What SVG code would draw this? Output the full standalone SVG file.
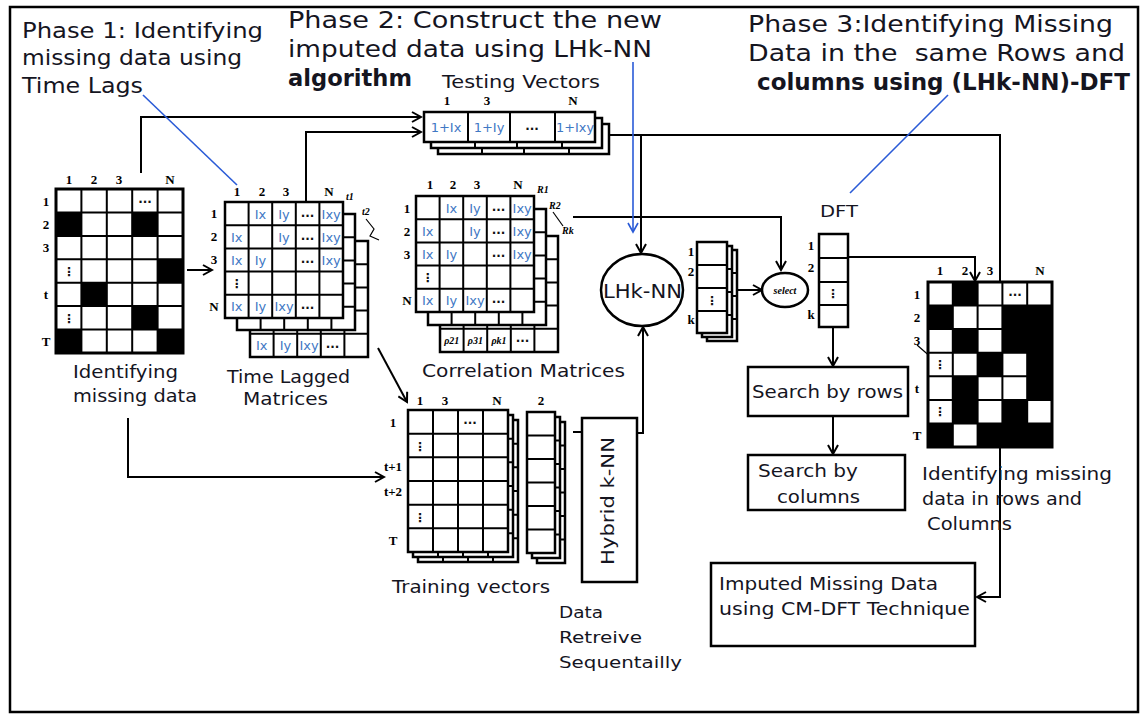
<svg xmlns="http://www.w3.org/2000/svg" xmlns:xlink="http://www.w3.org/1999/xlink" width="1144" height="718" viewBox="0 0 1144 718">
<style>
.ln{stroke:#000;stroke-width:2;fill:none}
.cn{stroke:#000;stroke-width:2;fill:none;marker-end:url(#ah)}
.bl{stroke:#2a5bd7;stroke-width:1.6;fill:none}
.t{font-family:"DejaVu Sans",Verdana,sans-serif;fill:#15151f}
.lab{font-family:"Liberation Serif",serif;font-weight:bold;font-size:13px;text-anchor:middle;fill:#000}
.it{font-family:"Liberation Serif",serif;font-style:italic;font-weight:bold;font-size:10px;fill:#000}
.cell{font-family:"DejaVu Sans",sans-serif;font-size:13px;fill:#3f78c4;text-anchor:middle}
.dots{font-family:"DejaVu Sans",sans-serif;font-weight:bold;font-size:12px;text-anchor:middle;fill:#111}
.box{fill:#fff;stroke:#000;stroke-width:2.5}
.blk{fill:#000}
</style>
<defs>
<marker id="ah" markerWidth="12" markerHeight="12" refX="10" refY="6" orient="auto" markerUnits="userSpaceOnUse"><path d="M1,1 L10,6 L1,11" fill="none" stroke="#000" stroke-width="2"/></marker>
<marker id="ahb" markerWidth="12" markerHeight="12" refX="10" refY="6" orient="auto" markerUnits="userSpaceOnUse"><path d="M1,1 L10,6 L1,11" fill="none" stroke="#2a5bd7" stroke-width="1.6"/></marker>
<g id="g55"><rect width="118" height="116" class="box"/><path d="M23.6 0V116M47.2 0V116M70.8 0V116M94.4 0V116M0 23.2H118M0 46.4H118M0 69.6H118M0 92.8H118" class="ln"/></g>
<g id="g4v"><rect width="171" height="30" class="box"/><path d="M44 0V30M86 0V30M131 0V30" class="ln"/></g>
<g id="gTr"><rect width="100" height="142" class="box"/><path d="M25 0V142M50 0V142M75 0V142M0 23.67H100M0 47.33H100M0 71H100M0 94.67H100M0 118.33H100" class="ln"/></g>
<g id="gCol"><rect width="28" height="141" class="box"/><path d="M0 23.5H28M0 47H28M0 70.5H28M0 94H28M0 117.5H28" class="ln"/></g>
<g id="gK"><rect width="30" height="91" class="box"/><path d="M0 23H30M0 46H30M0 69H30" class="ln"/></g>
<g id="lagtxt">
<text class="cell" x="35.4" y="16.6">Ix</text><text class="cell" x="59" y="16.6">Iy</text><text class="dots" x="82.6" y="14.6">...</text><text class="cell" x="106.2" y="16.6">Ixy</text>
<text class="cell" x="11.8" y="39.8">Ix</text><text class="cell" x="59" y="39.8">Iy</text><text class="dots" x="82.6" y="37.8">...</text><text class="cell" x="106.2" y="39.8">Ixy</text>
<text class="cell" x="11.8" y="63">Ix</text><text class="cell" x="35.4" y="63">Iy</text><text class="dots" x="82.6" y="61">...</text><text class="cell" x="106.2" y="63">Ixy</text>
<text class="dots" x="11.8" y="86.2">⋮</text>
<text class="cell" x="11.8" y="109.4">Ix</text><text class="cell" x="35.4" y="109.4">Iy</text><text class="cell" x="59" y="109.4">Ixy</text><text class="dots" x="82.6" y="107.4">...</text>
</g>
</defs>
<rect x="0" y="0" width="1144" height="718" fill="#fff"/>
<rect x="10" y="7" width="1128" height="705" fill="none" stroke="#000" stroke-width="2.5"/>

<g id="phase-titles">
<text class="t" font-size="21" x="22" y="38" textLength="241" lengthAdjust="spacingAndGlyphs">Phase 1: Identifying</text>
<text class="t" font-size="21" x="22" y="65" textLength="220" lengthAdjust="spacingAndGlyphs">missing data using</text>
<text class="t" font-size="21" x="22" y="93" textLength="121" lengthAdjust="spacingAndGlyphs">Time Lags</text>
<text class="t" font-size="23" x="288" y="28" textLength="374" lengthAdjust="spacingAndGlyphs">Phase 2: Construct the new</text>
<text class="t" font-size="23" x="288" y="57" textLength="364" lengthAdjust="spacingAndGlyphs">imputed data using LHk-NN</text>
<text class="t" font-size="23" font-weight="bold" x="288" y="86" textLength="124" lengthAdjust="spacingAndGlyphs">algorithm</text>
<text class="t" font-size="23" x="748" y="32" textLength="365" lengthAdjust="spacingAndGlyphs">Phase 3:Identifying Missing</text>
<text class="t" font-size="23" x="748" y="61" textLength="377" lengthAdjust="spacingAndGlyphs" xml:space="preserve">Data in the  same Rows and</text>
<text class="t" font-size="23" font-weight="bold" x="757" y="90" textLength="373" lengthAdjust="spacingAndGlyphs">columns using (LHk-NN)-DFT</text>
</g>

<g id="connectors">
<path class="cn" d="M187 270H212"/>
<path class="cn" d="M141 173V117H421"/>
<path class="cn" d="M306 202V132H421"/>
<path class="ln" d="M605 135H1000V282"/>
<path class="cn" d="M1000 447V597H977"/>
<path class="cn" d="M641 135V253"/>
<path class="cn" d="M573 217H781V270"/>
<path class="cn" d="M128 418V477H384"/>
<path class="cn" d="M378 348L407 402"/>
<path class="ln" d="M573 432H582"/>
<path class="cn" d="M637 433H643V327"/>
<path class="cn" d="M738 290H762"/>
<path class="cn" d="M848 257H975V281"/>
<path class="cn" d="M833 327V366"/>
<path class="cn" d="M833 416V454"/>
<path d="M917 345L940 365" stroke="#000" stroke-width="1.2" fill="none"/>
<path class="bl" d="M143 95L237 185"/>
<path class="bl" d="M633 62V232" marker-end="url(#ahb)"/>
<path class="bl" d="M948 95L850 193"/>
</g>

<g id="input-matrix">
<rect x="56" y="189" width="127" height="164" fill="#fff"/>
<rect class="blk" x="56" y="212.4" width="25.4" height="23.5"/>
<rect class="blk" x="132.2" y="212.4" width="25.4" height="23.5"/>
<rect class="blk" x="157.6" y="259.3" width="25.4" height="23.5"/>
<rect class="blk" x="81.4" y="282.7" width="25.4" height="23.5"/>
<rect class="blk" x="132.2" y="306.1" width="25.4" height="23.5"/>
<rect class="blk" x="56" y="329.6" width="25.4" height="23.4"/>
<rect class="blk" x="157.6" y="329.6" width="25.4" height="23.4"/>
<path class="ln" d="M81.4 189V353M106.8 189V353M132.2 189V353M157.6 189V353M56 212.4H183M56 235.9H183M56 259.3H183M56 282.7H183M56 306.1H183M56 329.6H183"/>
<rect x="56" y="189" width="127" height="164" fill="none" stroke="#000" stroke-width="3"/>
<text class="dots" x="145" y="203">...</text>
<text class="dots" x="69" y="276">⋮</text>
<text class="dots" x="69" y="323">⋮</text>
<text class="lab" x="69" y="184">1</text><text class="lab" x="94" y="184">2</text><text class="lab" x="119" y="184">3</text><text class="lab" x="170" y="184">N</text>
<text class="lab" x="46" y="206">1</text><text class="lab" x="46" y="229">2</text><text class="lab" x="46" y="252">3</text><text class="lab" x="46" y="299">t</text><text class="lab" x="46" y="346">T</text>
<text class="t" font-size="17" x="73" y="378" textLength="105" lengthAdjust="spacingAndGlyphs">Identifying</text>
<text class="t" font-size="17" x="73" y="402" textLength="124" lengthAdjust="spacingAndGlyphs">missing data</text>
</g>

<g id="time-lagged">
<use href="#g55" x="250" y="241"/>
<text class="cell" x="261.8" y="350">Ix</text><text class="cell" x="285.4" y="350">Iy</text><text class="cell" x="309" y="350">Ixy</text><text class="dots" x="332.6" y="348">...</text>
<use href="#g55" x="237" y="214"/>
<use href="#g55" x="225" y="202"/>
<use href="#lagtxt" x="225" y="202"/>
<text class="lab" x="237" y="196">1</text><text class="lab" x="262" y="196">2</text><text class="lab" x="286" y="196">3</text><text class="lab" x="329" y="196">N</text>
<text class="lab" x="214" y="218">1</text><text class="lab" x="214" y="241">2</text><text class="lab" x="214" y="264">3</text><text class="lab" x="214" y="311">N</text>
<text class="it" x="346" y="200">t1</text><text class="it" x="362" y="215">t2</text>
<path d="M366 219L374 229L370 236L379 240" stroke="#000" stroke-width="1.2" fill="none"/>
<text class="t" font-size="17" x="227" y="383" textLength="123" lengthAdjust="spacingAndGlyphs">Time Lagged</text>
<text class="t" font-size="17" x="243" y="405" textLength="85" lengthAdjust="spacingAndGlyphs">Matrices</text>
</g>

<g id="testing-vectors">
<use href="#g4v" x="438" y="124"/>
<use href="#g4v" x="431" y="118"/>
<use href="#g4v" x="424" y="112"/>
<text class="cell" x="446" y="132">1+Ix</text><text class="cell" x="489" y="132">1+Iy</text><text class="dots" x="532" y="130">...</text><text class="cell" x="575" y="132" textLength="38" lengthAdjust="spacingAndGlyphs">1+Ixy</text>
<text class="lab" x="447" y="105">1</text><text class="lab" x="487" y="105">3</text><text class="lab" x="573" y="105">N</text>
<text class="t" font-size="17" x="442" y="88" textLength="158" lengthAdjust="spacingAndGlyphs">Testing Vectors</text>
</g>

<g id="correlation">
<use href="#g55" x="440" y="236"/>
<text class="it" font-size="11" x="451.8" y="344" text-anchor="middle">ρ21</text><text class="it" font-size="11" x="475.4" y="344" text-anchor="middle">ρ31</text><text class="it" font-size="11" x="499" y="344" text-anchor="middle">ρk1</text><text class="dots" x="522.6" y="342">...</text>
<use href="#g55" x="428" y="209"/>
<use href="#g55" x="416" y="196"/>
<use href="#lagtxt" x="416" y="196"/>
<text class="lab" x="430" y="189">1</text><text class="lab" x="453" y="189">2</text><text class="lab" x="477" y="189">3</text><text class="lab" x="518" y="189">N</text>
<text class="lab" x="407" y="213">1</text><text class="lab" x="407" y="236">2</text><text class="lab" x="407" y="259">3</text><text class="lab" x="407" y="305">N</text>
<text class="it" x="537" y="193">R1</text><text class="it" x="549" y="209">R2</text><text class="it" x="562" y="234">Rk</text>
<path d="M553 212L563 226" stroke="#000" stroke-width="1.2" fill="none"/>
<text class="t" font-size="17" x="422" y="377" textLength="203" lengthAdjust="spacingAndGlyphs">Correlation Matrices</text>
</g>

<g id="training-vectors">
<use href="#gTr" x="418" y="420"/>
<use href="#gTr" x="413" y="415"/>
<use href="#gTr" x="408" y="410"/>
<text class="dots" x="470" y="424">...</text>
<text class="dots" x="420" y="451">⋮</text>
<text class="dots" x="420" y="522">⋮</text>
<use href="#gCol" x="537" y="422"/>
<use href="#gCol" x="532" y="417"/>
<use href="#gCol" x="527" y="412"/>
<text class="lab" x="420" y="405">1</text><text class="lab" x="445" y="405">3</text><text class="lab" x="497" y="405">N</text><text class="lab" x="541" y="405">2</text>
<text class="lab" font-size="11" x="393" y="427">1</text><text class="lab" font-size="10" x="393" y="471">t+1</text><text class="lab" font-size="10" x="393" y="496">t+2</text><text class="lab" x="393" y="545">T</text>
<text class="t" font-size="17" x="392" y="593" textLength="158" lengthAdjust="spacingAndGlyphs">Training vectors</text>
</g>

<g id="hybrid-knn">
<rect class="box" x="582" y="418" width="55" height="164"/>
<text class="t" font-size="18" transform="translate(614 565) rotate(-90)" textLength="128" lengthAdjust="spacingAndGlyphs">Hybrid k-NN</text>
<text class="t" font-size="16" x="559" y="618" textLength="44" lengthAdjust="spacingAndGlyphs">Data</text>
<text class="t" font-size="16" x="559" y="643" textLength="83" lengthAdjust="spacingAndGlyphs">Retreive</text>
<text class="t" font-size="16" x="559" y="668" textLength="123" lengthAdjust="spacingAndGlyphs">Sequentailly</text>
</g>

<g id="lhknn">
<ellipse cx="642" cy="290" rx="41" ry="36" class="box"/>
<text class="t" font-size="19" x="603" y="298" textLength="79" lengthAdjust="spacingAndGlyphs">LHk-NN</text>
</g>

<g id="k-vectors">
<use href="#gK" x="707" y="250"/>
<use href="#gK" x="702" y="246"/>
<use href="#gK" x="697" y="242"/>
<text class="dots" x="712" y="305">⋮</text>
<text class="lab" font-size="11" x="691" y="256">1</text><text class="lab" font-size="11" x="691" y="276">2</text><text class="lab" font-size="11" x="691" y="324">k</text>
</g>

<g id="select">
<ellipse cx="785" cy="290" rx="23" ry="17" class="box" stroke-width="2"/>
<text class="it" font-size="12" x="785" y="294" text-anchor="middle">select</text>
</g>

<g id="dft">
<rect class="box" x="819" y="234" width="29" height="93"/>
<path class="ln" d="M819 258H848M819 282H848M819 305H848"/>
<text class="dots" x="833" y="298">⋮</text>
<text class="lab" font-size="11" x="811" y="250">1</text><text class="lab" font-size="11" x="811" y="272">2</text><text class="lab" font-size="11" x="811" y="319">k</text>
<text class="t" font-size="16" x="820" y="217" textLength="38" lengthAdjust="spacingAndGlyphs">DFT</text>
</g>

<g id="search-rows">
<rect class="box" x="748" y="367" width="160" height="49"/>
<text class="t" font-size="17" x="752" y="398" textLength="151" lengthAdjust="spacingAndGlyphs">Search by rows</text>
</g>

<g id="search-columns">
<rect class="box" x="748" y="455" width="157" height="55"/>
<text class="t" font-size="17" x="758" y="477" textLength="100" lengthAdjust="spacingAndGlyphs">Search by</text>
<text class="t" font-size="17" x="777" y="503" textLength="83" lengthAdjust="spacingAndGlyphs">columns</text>
</g>

<g id="result-matrix">
<rect x="928" y="282" width="124" height="165" fill="#fff"/>
<rect class="blk" x="952.8" y="282" width="24.8" height="23.6"/>
<rect class="blk" x="928" y="305.6" width="24.8" height="23.6"/>
<rect class="blk" x="1002.4" y="305.6" width="24.8" height="23.6"/>
<rect class="blk" x="1027.2" y="305.6" width="24.8" height="23.6"/>
<rect class="blk" x="952.8" y="329.1" width="24.8" height="23.6"/>
<rect class="blk" x="1002.4" y="329.1" width="24.8" height="23.6"/>
<rect class="blk" x="1027.2" y="329.1" width="24.8" height="23.6"/>
<rect class="blk" x="977.6" y="352.7" width="24.8" height="23.6"/>
<rect class="blk" x="1027.2" y="352.7" width="24.8" height="23.6"/>
<rect class="blk" x="952.8" y="376.3" width="24.8" height="23.6"/>
<rect class="blk" x="1027.2" y="376.3" width="24.8" height="23.6"/>
<rect class="blk" x="952.8" y="399.9" width="24.8" height="23.6"/>
<rect class="blk" x="1002.4" y="399.9" width="24.8" height="23.6"/>
<rect class="blk" x="928" y="423.4" width="24.8" height="23.6"/>
<rect class="blk" x="977.6" y="423.4" width="24.8" height="23.6"/>
<rect class="blk" x="1002.4" y="423.4" width="24.8" height="23.6"/>
<rect class="blk" x="1027.2" y="423.4" width="24.8" height="23.6"/>
<path class="ln" d="M952.8 282V447M977.6 282V447M1002.4 282V447M1027.2 282V447M928 305.6H1052M928 329.1H1052M928 352.7H1052M928 376.3H1052M928 399.9H1052M928 423.4H1052"/>
<rect x="928" y="282" width="124" height="165" fill="none" stroke="#000" stroke-width="3"/>
<text class="dots" x="1015" y="296">...</text>
<text class="dots" x="940" y="369">⋮</text>
<text class="dots" x="940" y="416">⋮</text>
<text class="lab" x="940" y="275">1</text><text class="lab" x="965" y="275">2</text><text class="lab" x="990" y="275">3</text><text class="lab" x="1040" y="275">N</text>
<text class="lab" x="917" y="299">1</text><text class="lab" x="917" y="322">2</text><text class="lab" x="917" y="345">3</text><text class="lab" x="917" y="393">t</text><text class="lab" x="917" y="440">T</text>
<text class="t" font-size="17" x="922" y="480" textLength="190" lengthAdjust="spacingAndGlyphs">Identifying missing</text>
<text class="t" font-size="17" x="922" y="505" textLength="160" lengthAdjust="spacingAndGlyphs">data in rows and</text>
<text class="t" font-size="17" x="927" y="530" textLength="85" lengthAdjust="spacingAndGlyphs">Columns</text>
</g>

<g id="imputed-output">
<rect class="box" x="711" y="563" width="264" height="83"/>
<text class="t" font-size="17" x="719" y="590" textLength="219" lengthAdjust="spacingAndGlyphs">Imputed Missing Data</text>
<text class="t" font-size="17" x="719" y="615" textLength="251" lengthAdjust="spacingAndGlyphs">using CM-DFT Technique</text>
</g>
</svg>
